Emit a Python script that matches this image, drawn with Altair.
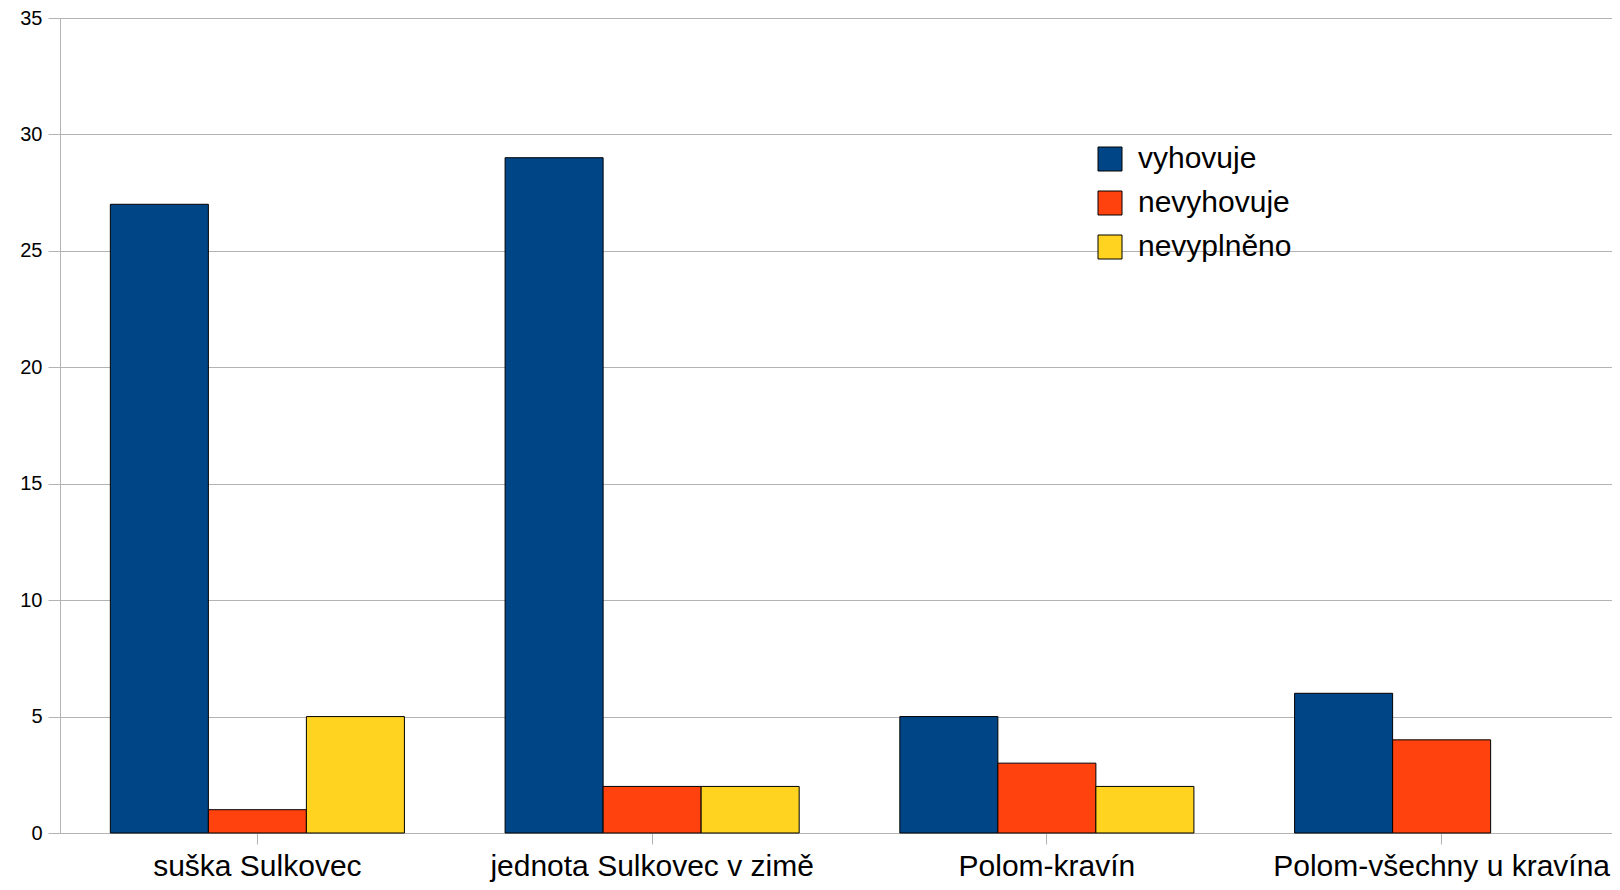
import altair as alt
import pandas as pd

categories = ["suška Sulkovec", "jednota Sulkovec v zimě", "Polom-kravín", "Polom-všechny u kravína"]
series = ["vyhovuje", "nevyhovuje", "nevyplněno"]
vyhovuje = [27, 29, 5, 6]
nevyhovuje = [1, 2, 3, 4]
nevyplneno = [5, 2, 2, None]
colors = ["#004586", "#ff420e", "#ffd320"]

rows = []
for i, c in enumerate(categories):
    for s, vals in zip(series, [vyhovuje, nevyhovuje, nevyplneno]):
        if vals[i] is not None:
            rows.append({"kategorie": c, "serie": s, "hodnota": vals[i]})
df = pd.DataFrame(rows)

FONT = "Liberation Sans"

chart = alt.Chart(df).mark_bar(stroke="black", strokeWidth=1).encode(
    x=alt.X("kategorie:N", sort=categories, title=None,
            scale=alt.Scale(paddingInner=0.255, paddingOuter=0.1275, range=[0, 1579]),
            axis=alt.Axis(labelAngle=0, labelFontSize=30, labelFont=FONT, labelColor="black",
                          labelBaseline="alphabetic", labelPadding=31, tickSize=11, labelLimit=0,
                          tickColor="#b3b3b3", domainColor="#b3b3b3", grid=False)),
    xOffset=alt.XOffset("serie:N", sort=series, scale=alt.Scale(paddingInner=0, paddingOuter=0)),
    y=alt.Y("hodnota:Q", title=None,
            scale=alt.Scale(domain=[0, 35], nice=False),
            axis=alt.Axis(values=[0, 5, 10, 15, 20, 25, 30, 35], labelFontSize=20, labelFont=FONT,
                          labelColor="black", labelPadding=6, tickSize=12, tickColor="#b3b3b3",
                          domainColor="#b3b3b3", gridColor="#b3b3b3")),
    color=alt.Color("serie:N", sort=series, title=None,
                    scale=alt.Scale(domain=series, range=colors),
                    legend=alt.Legend(orient="none", legendX=1035, legendY=126, padding=0,
                                      symbolType="square", symbolSize=576, symbolStrokeColor="black",
                                      symbolStrokeWidth=1, labelFontSize=30, labelFont=FONT,
                                      labelColor="black", labelOffset=13, rowPadding=14)),
).properties(
    width=1552, height=815,
    padding={"left": 52, "top": 10, "right": 0, "bottom": 49},
    autosize=alt.AutoSizeParams(type="none"),
).configure_view(stroke=None).configure_axis(gridWidth=1)

chart.save("out.html", embed_options={"renderer": "svg", "actions": False})
